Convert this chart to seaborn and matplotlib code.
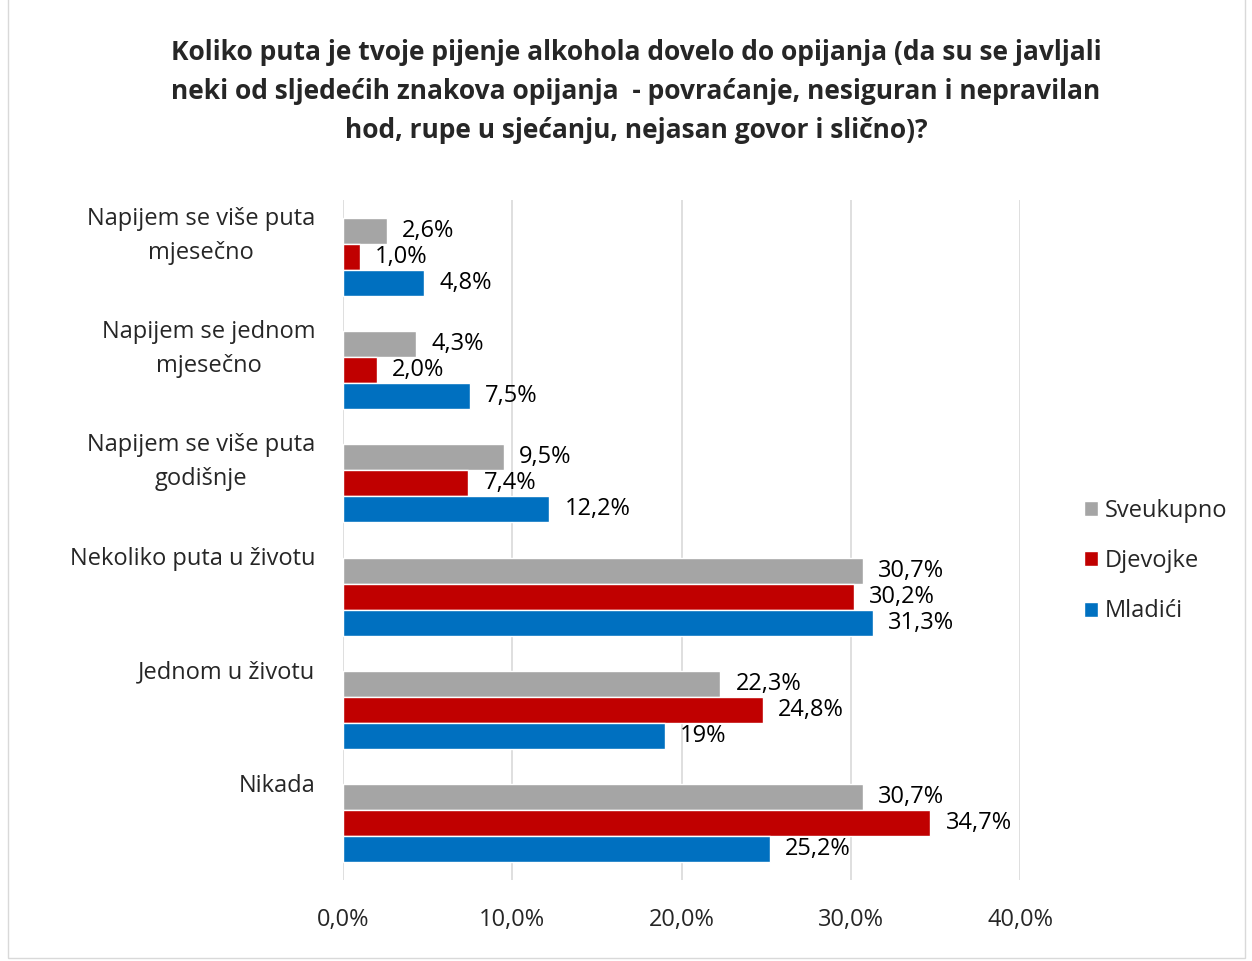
import pandas as pd
import numpy as np
import matplotlib.pyplot as plt
import matplotlib.transforms as mtransforms
from matplotlib.patches import Rectangle
import seaborn as sns

# podaci
kategorije = [
    "Napijem se više puta\nmjesečno",
    "Napijem se jednom\nmjesečno",
    "Napijem se više puta\ngodišnje",
    "Nekoliko puta u životu",
    "Jednom u životu",
    "Nikada",
]
serije = ["Sveukupno", "Djevojke", "Mladići"]
sveukupno = [2.6, 4.3, 9.5, 30.7, 22.3, 30.7]
djevojke = [1.0, 2.0, 7.4, 30.2, 24.8, 34.7]
mladici = [4.8, 7.5, 12.2, 31.3, 19.0, 25.2]
oznake_sveukupno = ["2,6%", "4,3%", "9,5%", "30,7%", "22,3%", "30,7%"]
oznake_djevojke = ["1,0%", "2,0%", "7,4%", "30,2%", "24,8%", "34,7%"]
oznake_mladici = ["4,8%", "7,5%", "12,2%", "31,3%", "19%", "25,2%"]
boje = ["#A5A5A5", "#C00000", "#0070C0"]

naslov = ("Koliko puta je tvoje pijenje alkohola dovelo do opijanja (da su se javljali\n"
          "neki od sljedećih znakova opijanja  - povraćanje, nesiguran i nepravilan\n"
          "hod, rupe u sjećanju, nejasan govor i slično)?")

df = pd.DataFrame({
    "Kategorija": kategorije * 3,
    "Serija": np.repeat(serije, len(kategorije)),
    "Vrijednost": sveukupno + djevojke + mladici,
})

sns.set_style("white")
plt.rcParams["font.family"] = ["Open Sans", "DejaVu Sans"]

fig = plt.figure(figsize=(12.52, 9.61), dpi=100)
ax = fig.add_axes([343 / 1252, 1 - 880 / 961, 677 / 1252, 680 / 961])

sns.barplot(data=df, y="Kategorija", x="Vrijednost", hue="Serija",
            hue_order=serije, order=kategorije, palette=boje,
            orient="h", width=0.69, ax=ax, saturation=1, errorbar=None)

for cont, lab in zip(ax.containers, [oznake_sveukupno, oznake_djevojke, oznake_mladici]):
    ax.bar_label(cont, labels=lab, padding=11, fontsize=17, color="black")

ax.set_xlim(0, 40)
ax.set_ylim(5.5, -0.5)
ax.set_xticks([0, 10, 20, 30, 40])
ax.set_xticklabels(["0,0%", "10,0%", "20,0%", "30,0%", "40,0%"], fontsize=17)
ax.tick_params(axis="x", length=0, pad=20)
ax.set_yticks([])
ax.set_xlabel("")
ax.set_ylabel("")
ax.grid(axis="x", color="#D9D9D9", linewidth=1.2)
ax.set_axisbelow(True)
for s in ax.spines.values():
    s.set_visible(False)

# oznake kategorija (poravnate uz vrh grupe, kao u Excelu)
trans = mtransforms.blended_transform_factory(ax.transAxes, ax.transData)
for i, kat in enumerate(kategorije):
    n = len(kat.split("\n"))
    ax.text(-0.041, i - 0.33 + (n - 1) * 0.145, kat, transform=trans,
            ha="right", va="center", multialignment="center",
            fontsize=17, linespacing=1.55)

# legenda
h, l = ax.get_legend_handles_labels()
ax.get_legend().remove()
fig.legend(h, l, loc="center left", bbox_to_anchor=(1072 / 1252, 1 - 561 / 961),
           frameon=False, fontsize=17, handlelength=0.6, handleheight=0.6,
           handletextpad=0.3, labelspacing=1.12, borderpad=0)

fig.text(0.508, 1 - 39 / 961, naslov, ha="center", va="top", fontsize=19,
         fontweight="bold", linespacing=1.58)

fig.patches.append(Rectangle((8 / 1252, 3 / 961), 1237 / 1252, 1.1,
                             transform=fig.transFigure, fill=False,
                             edgecolor="#D9D9D9", linewidth=1))

fig.savefig("out.png", dpi=100)
